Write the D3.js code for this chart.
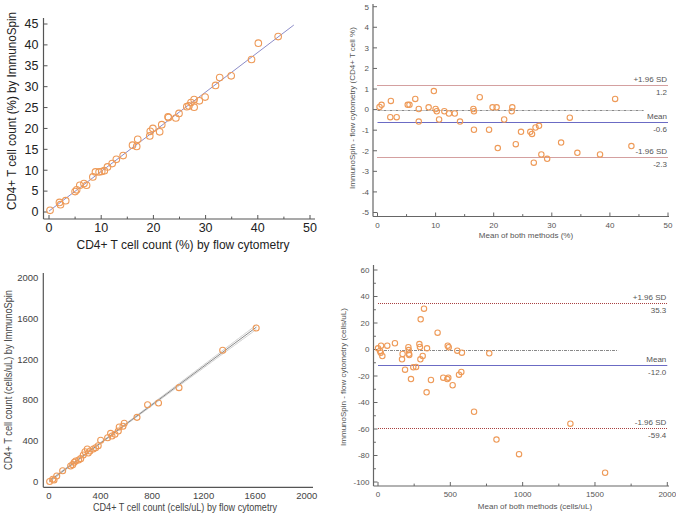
<!DOCTYPE html>
<html>
<head>
<meta charset="utf-8">
<script src="https://cdn.jsdelivr.net/npm/d3@7"></script>
<style>
  body { margin: 0; background: #fff; }
  svg { display: block; font-family: "Liberation Sans", Arial, sans-serif; }
</style>
</head>
<body>
<svg id="chart" width="676" height="515"></svg>
<script>
// panel A: CD4 % flow cytometry (x) vs ImmunoSpin (y)
const pctFlow = [0.2, 2.0, 2.2, 3.2, 5.0, 5.3, 5.9, 6.7, 7.2, 8.4, 8.9, 9.6, 10.1, 10.6, 11.2, 12.1, 12.9, 14.2,
    16.0, 16.8, 17.0, 19.3, 19.4, 19.9, 21.2, 21.6, 22.8, 22.9, 24.3, 24.9, 26.4, 26.8, 27.2, 27.8, 27.8, 28.8,
    29.9, 31.9, 32.7, 34.9, 38.8, 40.1, 43.9];
const pctSpin = [0.4, 2.3, 1.75, 2.7, 4.9, 5.3, 6.4, 6.8, 6.4, 8.4, 9.6, 9.6, 9.7, 9.9, 10.8, 11.6, 12.6, 13.5,
    16.0, 15.7, 17.4, 18.2, 19.3, 20.0, 19.2, 20.9, 22.8, 22.6, 22.5, 23.6, 25.2, 25.4, 26.2, 26.9, 25.1, 26.6,
    27.5, 30.3, 32.2, 32.6, 36.5, 40.4, 42.0];

// panel B: Bland-Altman, %
const pctMean = [0.35, 0.7, 2.3, 2.2, 3.3, 5.2, 5.5, 6.5, 7.1, 7.1, 8.8, 9.7, 10.0, 10.2, 10.6, 11.5, 12.3, 13.3,
    14.2, 16.5, 16.6, 16.6, 17.6, 19.2, 19.8, 20.5, 20.7, 21.8, 23.2, 23.1, 23.8, 24.7, 26.3, 26.6, 27.2, 27.8,
    26.9, 28.2, 29.2, 31.6, 33.1, 34.4, 38.3, 40.9, 43.7];
const pctDiff = [0.13, 0.23, 0.42, -0.37, -0.37, 0.23, 0.23, 0.52, 0.03, -0.58, 0.11, 0.9, 0.03, -0.08, -0.48,
    -0.08, -0.19, -0.19, -0.58, 0.03, -0.08, -0.98, 0.6, -0.98, 0.11, 0.11, -1.87, -0.48, 0.11, -0.08, -1.68,
    -1.08, -1.08, -1.18, -0.87, -0.79, -2.58, -2.18, -2.39, -1.6, -0.39, -2.1, -2.18, 0.52, -1.77];
const pctLimits = [1.2, -0.6, -2.3]; // +1.96 SD, mean, -1.96 SD

// panel C: absolute counts (cells/uL)
const cntFlow = [5, 29, 39, 60, 106, 168, 184, 196, 207, 230, 246, 266, 279, 297, 305, 318, 344, 362, 382, 401,
    455, 478, 489, 512, 538, 545, 574, 584, 683, 765, 850, 1009, 1348, 1608];
const cntSpin = [2, 24, 17, 56, 108, 154, 167, 190, 203, 213, 226, 262, 294, 320, 281, 301, 320, 333, 353, 406,
    431, 474, 448, 465, 497, 536, 543, 573, 631, 755, 771, 922, 1288, 1507];

// panel D: Bland-Altman, cells/uL
const cntMean = [0, 14, 21, 19, 30, 64, 117, 166, 170, 187, 210, 212, 214, 216, 228, 244, 263, 286, 290, 295, 309,
    293, 318, 339, 336, 366, 412, 451, 479, 486, 482, 489, 516, 548, 580, 560, 576, 769, 664, 819, 975, 1330, 1570];
const cntDiff = [0.9, -1.1, 2.9, -2.4, -4.9, 2.9, 4.7, -7.4, -3.4, -15.2, 1.7, -0.4, -3.2, -4.2, -22.3, -13.4,
    -13.2, 4.1, 1.9, 22.8, -4.9, -7.4, 30.8, 0.9, -32.3, -23, 12.7, -21.3, -22.3, -21.3, 2.9, 1.7, -27, -0.9,
    -2.4, -19, -17, -2.9, -47, -68, -79, -56, -93];
const cntLimits = [35.3, -12.0, -59.4];

const limitNames = ['+1.96 SD', 'Mean', '-1.96 SD'];
const orange = '#ee9a58';

const svg = d3.select('#chart');

function fit(xs, ys) {
    const n = xs.length;
    const mx = d3.mean(xs), my = d3.mean(ys);
    let sxy = 0, sxx = 0;
    for (let i = 0; i < n; i++) {
        sxy += (xs[i] - mx) * (ys[i] - my);
        sxx += (xs[i] - mx) * (xs[i] - mx);
    }
    const b = sxy / sxx;
    const a = my - b * mx;
    let sse = 0;
    for (let i = 0; i < n; i++) sse += Math.pow(ys[i] - a - b * xs[i], 2);
    const s = Math.sqrt(sse / (n - 2));
    return {a, b, n, mx, sxx, s};
}

// ticks drawn inside the plot, like the original software
function drawAxes(g, x, y, o) {
    const [x0, x1] = x.range();
    const [y0, y1] = y.range();
    const left = x0 - o.gapX, bottom = y0 + o.gapY;
    g.append('line').attr('x1', left).attr('x2', o.xEnd).attr('y1', bottom).attr('y2', bottom)
        .attr('stroke', o.axisColor).attr('stroke-width', 1.2);
    g.append('line').attr('x1', left).attr('x2', left).attr('y1', o.yTop).attr('y2', bottom)
        .attr('stroke', o.axisColor).attr('stroke-width', 1.2);

    if (o.tickLen > 0) {
        o.xMinor.forEach(v => {
            g.append('line').attr('x1', x(v)).attr('x2', x(v)).attr('y1', bottom).attr('y2', bottom - o.tickLen * 0.6)
                .attr('stroke', o.axisColor);
        });
        o.xTicks.forEach(v => {
            g.append('line').attr('x1', x(v)).attr('x2', x(v)).attr('y1', bottom).attr('y2', bottom - o.tickLen)
                .attr('stroke', o.axisColor);
        });
        o.yMinor.forEach(v => {
            g.append('line').attr('x1', left).attr('x2', left + o.tickLen * 0.6).attr('y1', y(v)).attr('y2', y(v))
                .attr('stroke', o.axisColor);
        });
        o.yTicks.forEach(v => {
            g.append('line').attr('x1', left).attr('x2', left + o.tickLen).attr('y1', y(v)).attr('y2', y(v))
                .attr('stroke', o.axisColor);
        });
    }

    g.selectAll('.xt').data(o.xTicks).enter().append('text')
        .attr('x', d => x(d)).attr('y', bottom + o.xLabelDy)
        .attr('text-anchor', 'middle').attr('font-size', o.tickFont).attr('fill', o.textColor)
        .text(d => d);
    g.selectAll('.yt').data(o.yTicks).enter().append('text')
        .attr('x', left - o.yLabelDx).attr('y', d => y(d)).attr('dy', '0.35em')
        .attr('text-anchor', 'end').attr('font-size', o.tickFont).attr('fill', o.textColor)
        .text(d => d);

    const xt = g.append('text').attr('x', o.xTitle[0]).attr('y', o.xTitle[1])
        .attr('text-anchor', 'middle').attr('font-size', o.titleFont).attr('fill', o.textColor)
        .text(o.xLabel);
    const yt = g.append('text').attr('transform', 'translate(' + o.yTitle[0] + ',' + o.yTitle[1] + ') rotate(-90)')
        .attr('text-anchor', 'middle').attr('font-size', o.titleFont).attr('fill', o.textColor)
        .text(o.yLabel);
    // original picture is a bit squeezed, so fit titles to the measured length
    if (o.xTitleLen) xt.attr('textLength', o.xTitleLen).attr('lengthAdjust', 'spacingAndGlyphs');
    if (o.yTitleLen) yt.attr('textLength', o.yTitleLen).attr('lengthAdjust', 'spacingAndGlyphs');
}

function drawPoints(g, x, y, xs, ys, r) {
    g.selectAll('circle.pt').data(xs).enter().append('circle')
        .attr('class', 'pt')
        .attr('cx', (d) => x(d)).attr('cy', (d, i) => y(ys[i])).attr('r', r)
        .attr('fill', 'none').attr('stroke', orange).attr('stroke-width', 1.1);
}

// ---- panel A ----
{
    const g = svg.append('g');
    const x = d3.scaleLinear().domain([0, 50]).range([49, 310]);
    const y = d3.scaleLinear().domain([0, 45]).range([212, 24]);
    drawAxes(g, x, y, {
        gapX: 5.5, gapY: 7, xEnd: 315, yTop: 18, axisColor: '#555', textColor: '#222', tickLen: 4,
        xTicks: d3.range(0, 51, 10), xMinor: d3.range(5, 50, 10),
        yTicks: d3.range(0, 46, 5), yMinor: [],
        tickFont: 12.5, titleFont: 12, xLabelDy: 13, yLabelDx: 5,
        xLabel: 'CD4+ T cell count (%) by flow cytometry', xTitle: [183, 249], xTitleLen: 213,
        yLabel: 'CD4+ T cell count (%) by ImmunoSpin', yTitle: [15.5, 111], yTitleLen: 198,
    });
    const f = fit(pctFlow, pctSpin);
    const xe = 46.9;
    g.append('line').attr('x1', x(0)).attr('y1', y(f.a)).attr('x2', x(xe)).attr('y2', y(f.a + f.b * xe))
        .attr('stroke', '#8c8cc8').attr('stroke-width', 1);
    drawPoints(g, x, y, pctFlow, pctSpin, 3.3);
}

// ---- Bland-Altman panels ----
function drawBA(o) {
    const g = svg.append('g');
    const x = d3.scaleLinear().domain(o.xDomain).range(o.xRange);
    const y = d3.scaleLinear().domain(o.yDomain).range(o.yRange);
    drawAxes(g, x, y, {
        gapX: 4.5, gapY: 4, xEnd: 669, yTop: o.yTop, axisColor: '#666', textColor: '#555', tickLen: 4,
        xTicks: o.xTicks, xMinor: o.xMinor, yTicks: o.yTicks, yMinor: o.yMinor,
        tickFont: 8, titleFont: 8, xLabelDy: 11, yLabelDx: 4,
        xLabel: o.xLabel, xTitle: o.xTitle, yLabel: o.yLabel, yTitle: o.yTitle,
    });
    const xa = x(o.xDomain[0]), xb = x(o.xDomain[1]);
    // snap the horizontal reference lines to the pixel grid so the dots stay crisp
    const snap = (v) => Math.round(y(v)) + 0.5;
    g.append('line').attr('x1', xa).attr('x2', x(o.zeroEnd)).attr('y1', snap(0)).attr('y2', snap(0))
        .attr('stroke', '#888').attr('stroke-dasharray', '3,1,1,1').attr('stroke-width', 1);
    o.limits.forEach((v, i) => {
        g.append('line').attr('x1', xa).attr('x2', xb).attr('y1', snap(v)).attr('y2', snap(v))
            .attr('stroke', i === 1 ? '#6b6bc4' : '#a84040')
            .attr('stroke-width', i === 1 ? 1.2 : 1)
            .attr('stroke-dasharray', i === 1 ? null : '1,1');
        g.append('text').attr('x', xb - 1).attr('y', y(v) - 3).attr('text-anchor', 'end')
            .attr('font-size', 8).attr('fill', '#555').text(limitNames[i]);
        g.append('text').attr('x', xb - 1).attr('y', y(v) + 10).attr('text-anchor', 'end')
            .attr('font-size', 8).attr('fill', '#555').text(v.toFixed(1));
    });
    drawPoints(g, x, y, o.xs, o.ys, 2.7);
}

drawBA({
    xs: pctMean, ys: pctDiff, limits: pctLimits, zeroEnd: 45.8,
    xDomain: [0, 50], xRange: [377.5, 668], yDomain: [-5, 5], yRange: [212.5, 6.7], yTop: 4,
    xTicks: d3.range(0, 51, 10), xMinor: d3.range(5, 50, 10),
    yTicks: d3.range(-5, 6, 1), yMinor: [],
    xLabel: 'Mean of both methods (%)', xTitle: [526, 238],
    yLabel: 'ImmunoSpin - flow cytometry (CD4+ T cell %)', yTitle: [355, 108],
});

// ---- panel C ----
{
    const g = svg.append('g');
    const x = d3.scaleLinear().domain([0, 2000]).range([49, 306.7]);
    const y = d3.scaleLinear().domain([0, 2000]).range([481.7, 277.7]);
    drawAxes(g, x, y, {
        gapX: 5.7, gapY: 5.6, xEnd: 313, yTop: 273, axisColor: '#555', textColor: '#444', tickLen: 0,
        xTicks: d3.range(0, 2001, 400), xMinor: [],
        yTicks: d3.range(0, 2001, 400), yMinor: [],
        tickFont: 9.5, titleFont: 10.5, xLabelDy: 12, yLabelDx: 5,
        xLabel: 'CD4+ T cell count (cells/uL) by flow cytometry', xTitle: [185, 511], xTitleLen: 184,
        yLabel: 'CD4+ T cell count (cells/uL) by ImmunoSpin', yTitle: [12, 380], yTitleLen: 180,
    });
    const f = fit(cntFlow, cntSpin);
    const xe = 1610;
    const t = 2.04;
    const xsLine = d3.range(0, xe + 1, 10);
    const band = (sgn) => d3.line()
        .x(d => x(d))
        .y(d => y(f.a + f.b * d + sgn * t * f.s * Math.sqrt(1 / f.n + (d - f.mx) * (d - f.mx) / f.sxx)));
    [-1, 1].forEach(sgn => {
        g.append('path').datum(xsLine).attr('d', band(sgn))
            .attr('fill', 'none').attr('stroke', '#c8c8c8').attr('stroke-width', 0.9);
    });
    g.append('line').attr('x1', x(0)).attr('y1', y(f.a)).attr('x2', x(xe)).attr('y2', y(f.a + f.b * xe))
        .attr('stroke', '#888').attr('stroke-width', 1);
    drawPoints(g, x, y, cntFlow, cntSpin, 3);
}

drawBA({
    xs: cntMean, ys: cntDiff, limits: cntLimits, zeroEnd: 1660,
    xDomain: [0, 2000], xRange: [378, 667.3], yDomain: [-100, 60], yRange: [482, 270], yTop: 265,
    xTicks: d3.range(0, 2001, 500), xMinor: d3.range(250, 2000, 500),
    yTicks: d3.range(-100, 61, 20), yMinor: d3.range(-90, 60, 20),
    xLabel: 'Mean of both methods (cells/uL)', xTitle: [535, 509],
    yLabel: 'ImmunoSpin - flow cytometry (cells/uL)', yTitle: [346, 377],
});
</script>
</body>
</html>
